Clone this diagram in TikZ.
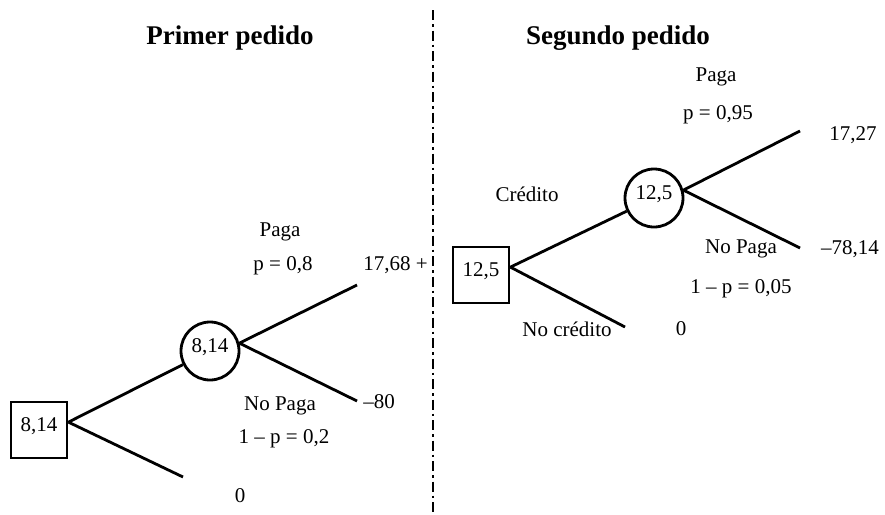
\documentclass[tikz,border=0pt]{standalone}
\usepackage{fontspec}
\setmainfont{Liberation Serif}
\usetikzlibrary{positioning}

\begin{document}
\begin{tikzpicture}[x=1pt,y=-1pt,line width=2.8pt,font=\fontsize{21}{25}\selectfont,
  decision/.style={draw,rectangle,minimum size=56pt,inner sep=0pt},
  chance/.style={draw,circle,minimum size=58pt,inner sep=0pt},
  lbl/.style={inner sep=0pt},
  ttl/.style={inner sep=0pt,font=\fontsize{27}{32}\selectfont\bfseries}]
\useasboundingbox (0,0) rectangle (885,514);

% primer pedido
\node[ttl] (t1) at (230,38) {Primer pedido};
\node[decision] (d1) at (39,430) {\raisebox{11pt}{8,14}};
\node[chance] (c1) at (210,351) {\raisebox{11pt}{8,14}};
\coordinate (e0) at (183,477);
\coordinate (e1) at (357,285);
\coordinate (e2) at (357,401);
\draw (d1.15) -- (c1);
\draw (d1.15) -- (e0);
\draw (c1.15) -- (e1);
\draw (c1.15) -- (e2);
\node[lbl] (paga1) at (280,232) {Paga};
\node[lbl] (p1) at (283,266) {p = 0,8};
\node[lbl,anchor=west] (v1) at (362,265) {17,68 +};
\node[lbl,anchor=west] (v2) at (362,402) {–80};
\node[lbl] (nopaga1) at (280,406) {No Paga};
\node[lbl] (q1) at (284,439) {1 – p = 0,2};
\node[lbl] (v0) at (240,496) {0};

% separacion
\coordinate (sep1) at (433,10);
\coordinate (sep2) at (433,514);
\draw[dash pattern=on 10pt off 4pt on 2.5pt off 4pt] (sep1) -- (sep2);

% segundo pedido
\node[ttl] (t2) at (618,38) {Segundo pedido};
\node[decision] (d2) at (481,275) {\raisebox{11pt}{12,5}};
\node[chance] (c2) at (654,198) {\raisebox{11pt}{12,5}};
\coordinate (e3) at (625,327);
\coordinate (e4) at (800,131);
\coordinate (e5) at (800,248);
\draw (d2.15) -- (c2);
\draw (d2.15) -- (e3);
\draw (c2.15) -- (e4);
\draw (c2.15) -- (e5);
\node[lbl] (paga2) at (716,77) {Paga};
\node[lbl] (p2) at (718,115) {p = 0,95};
\node[lbl] (v4) at (853,135) {17,27};
\node[lbl] (cred) at (527,194) {Crédito};
\node[lbl] (nopaga2) at (741,249) {No Paga};
\node[lbl] (v5) at (850,249) {–78,14};
\node[lbl] (q2) at (741,289) {1 – p = 0,05};
\node[lbl] (nocred) at (567,329) {No crédito};
\node[lbl] (v3) at (681,329) {0};
\end{tikzpicture}
\end{document}
